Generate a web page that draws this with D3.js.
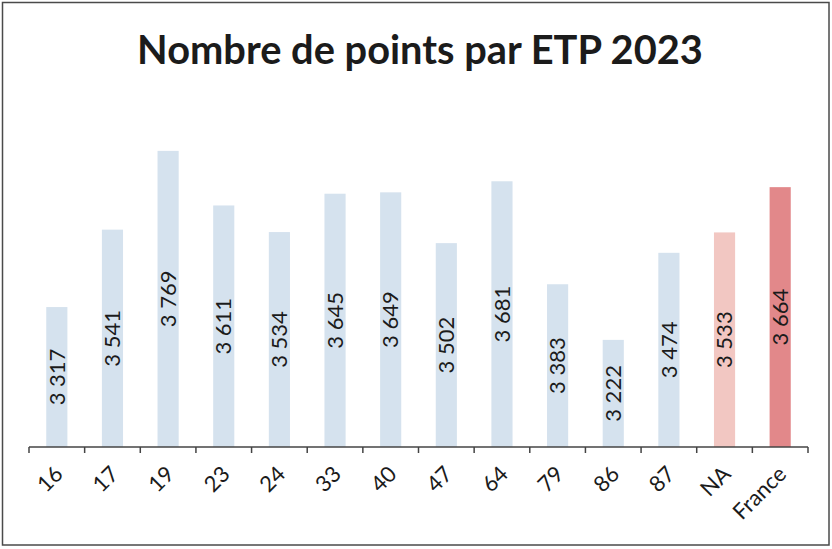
<!DOCTYPE html>
<html>
<head>
<meta charset="utf-8">
<script src="https://cdn.jsdelivr.net/npm/d3@7"></script>
<style>
  body { margin: 0; background: #fff; }
  svg { display: block; }
</style>
</head>
<body>
<div id="chart"></div>
<script>
// data
var categories = ["16", "17", "19", "23", "24", "33", "40", "47", "64", "79", "86", "87", "NA", "France"];
var values = [3317, 3541, 3769, 3611, 3534, 3645, 3649, 3502, 3681, 3383, 3222, 3474, 3533, 3664];
var barColors = ["#d5e2ee", "#d5e2ee", "#d5e2ee", "#d5e2ee", "#d5e2ee", "#d5e2ee", "#d5e2ee",
                 "#d5e2ee", "#d5e2ee", "#d5e2ee", "#d5e2ee", "#d5e2ee", "#f2c7c2", "#e2888a"];
var title = "Nombre de points par ETP 2023";

var width = 832, height = 549;
var svg = d3.select("#chart").append("svg").attr("width", width).attr("height", height);

// chart frame
svg.append("rect").attr("x", 2.5).attr("y", 2.5).attr("width", 826.5).attr("height", 542.5)
  .attr("fill", "#fff").attr("stroke", "#4a4a4a").attr("stroke-width", 1.5);

// title, fitted to the reference width
var t = svg.append("text").attr("x", 420).attr("y", 64).attr("text-anchor", "middle")
  .attr("font-family", "Lato, 'Open Sans', sans-serif").attr("font-weight", "bold")
  .attr("font-size", 40).attr("fill", "#1b1b1b").text(title);
var tw = t.node().getComputedTextLength();
t.attr("font-size", 40 * 566 / tw);

// scales
var x = d3.scaleBand().domain(categories).range([29, 808]);
var y = d3.scaleLinear().domain([2912, 3900]).range([447, 105.6]);
var barW = x.bandwidth() * 0.38;

// bars
svg.selectAll("rect.bar").data(values).enter().append("rect")
  .attr("class", "bar")
  .attr("x", (d, i) => x(categories[i]) + (x.bandwidth() - barW) / 2)
  .attr("y", (d) => y(d))
  .attr("width", barW)
  .attr("height", (d) => y(y.domain()[0]) - y(d))
  .attr("fill", (d, i) => barColors[i]);

// value labels, rotated, centered in bar
var fmt = (v) => d3.format(",")(v).replace(",", " ");
svg.selectAll("text.val").data(values).enter().append("text")
  .attr("class", "val")
  .attr("transform", (d, i) => "translate(" + (x(categories[i]) + x.bandwidth() / 2) + "," + ((y(d) + y(y.domain()[0])) / 2) + ") rotate(-90)")
  .attr("text-anchor", "middle").attr("dy", "0.35em")
  .attr("font-family", "Lato, 'Open Sans', sans-serif").attr("font-size", 22)
  .attr("fill", "#1b1b1b").text(fmt);

// x axis
var axisG = svg.append("g").attr("transform", "translate(0,447)");
axisG.append("line").attr("x1", 29).attr("x2", 808).attr("stroke", "#444").attr("stroke-width", 1.5);
var tickPos = categories.map((c) => x(c)).concat([x.range()[1]]);
axisG.selectAll("line.tick").data(tickPos).enter().append("line")
  .attr("class", "tick").attr("x1", (d) => d).attr("x2", (d) => d)
  .attr("y1", 0).attr("y2", 6).attr("stroke", "#444").attr("stroke-width", 1.5);

svg.selectAll("text.cat").data(categories).enter().append("text")
  .attr("class", "cat")
  .attr("transform", (d) => "translate(" + (x(d) + x.bandwidth() / 2 + 2) + ",470) rotate(-45)")
  .attr("text-anchor", "end").attr("dy", "0.35em")
  .attr("font-family", "Lato, 'Open Sans', sans-serif").attr("font-size", 22)
  .attr("fill", "#1b1b1b").text((d) => d);
</script>
</body>
</html>
